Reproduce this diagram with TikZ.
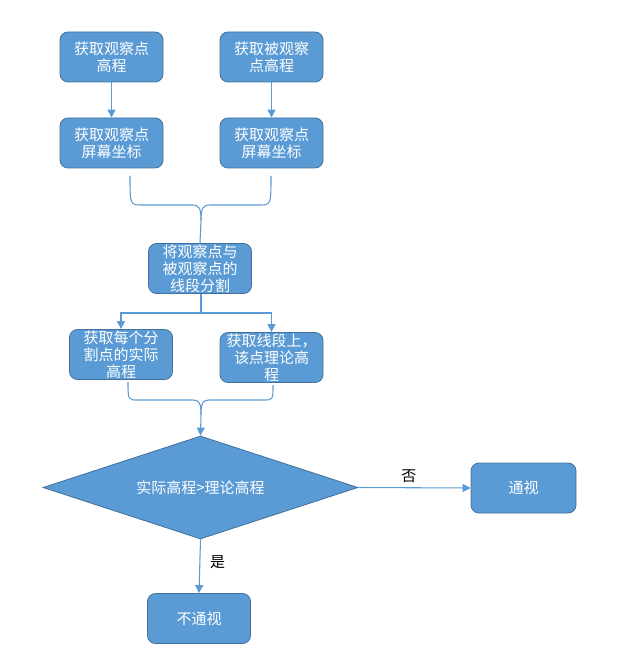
\documentclass[tikz,border=0pt]{standalone}
\usepackage{fontspec}
\setmainfont{Noto Sans CJK SC}
\usetikzlibrary{shapes.geometric,arrows.meta}
\definecolor{boxfill}{HTML}{5B9BD5}
\definecolor{boxline}{HTML}{41719C}
\definecolor{linkc}{HTML}{5B9BD5}
\begin{document}
\begin{tikzpicture}[x=0.75pt,y=-0.75pt,
  proc/.style={draw=boxline,fill=boxfill,rounded corners=6pt,minimum width=103*0.75pt,minimum height=50*0.75pt,inner sep=0pt,text=white,align=center,font=\fontsize{11.25}{12.75}\selectfont,line width=0.6pt},
  dec/.style={draw=boxline,fill=boxfill,diamond,aspect=3,minimum width=315*0.75pt,minimum height=103*0.75pt,inner sep=0pt,text=white,font=\fontsize{11.25}{12.75}\selectfont,line width=0.6pt},
  link/.style={draw=linkc,line width=0.8pt},
  arr/.style={link,-{Triangle[length=6pt,width=6pt]}},
  lbl/.style={font=\fontsize{11.25}{12.75}\selectfont,text=black}]
\useasboundingbox (0,0) rectangle (643,666);
\node[proc] (a1) at (111.5,57) {获取观察点\\高程};
\node[proc] (a2) at (271.5,57) {获取被观察\\点高程};
\node[proc] (b1) at (111.5,143) {获取观察点\\屏幕坐标};
\node[proc] (b2) at (271.5,143) {获取观察点\\屏幕坐标};
\node[proc] (c) at (200,268.5) {将观察点与\\被观察点的\\线段分割};
\node[proc] (d1) at (121,354.5) {获取每个分\\割点的实际\\高程};
\node[proc] (d2) at (271.5,357.5) {获取线段上，\\该点理论高\\程};
\node[dec] (dia) at (200.5,487.5) {实际高程>理论高程};
\node[proc,minimum width=105*0.75pt] (e) at (523.5,488) {通视};
\node[proc] (f) at (199,618.5) {不通视};

\draw[arr] (a1) -- (b1);
\draw[arr] (a2) -- (b2);

% upper brace
\coordinate (u1) at (130,176);
\coordinate (u2) at (271,176);
\coordinate (um) at (201,220);
\draw[link] (u1) .. controls (130,205) and (130,205) .. (142,205) -- (192,205) .. controls (199,205) and (201,208) .. (um);
\draw[link] (u2) .. controls (271,205) and (271,205) .. (259,205) -- (210,205) .. controls (203,205) and (201,208) .. (um);
\draw[link] (um) -- (c.north);

% split from c
\coordinate (sp) at (201,313);
\draw[link] (c.south -| sp) -- (sp);
\draw[arr] (sp) -| (d1.north);
\draw[arr] (sp) -| (d2.north);

% lower brace
\coordinate (l1) at (128,382);
\coordinate (l2) at (273,385);
\coordinate (lm) at (201,414);
\draw[link] (l1) .. controls (128,400) and (128,400) .. (138,400) -- (193,400) .. controls (199,400) and (201,403) .. (lm);
\draw[link] (l2) .. controls (273,400) and (273,400) .. (263,400) -- (209,400) .. controls (203,400) and (201,403) .. (lm);
\draw[arr] (lm) -- (dia.north);

\draw[arr] (dia.east) -- node[lbl,above,pos=0.45] (no) {否} (e.west);
\draw[arr] (dia.south) -- node[lbl,right,pos=0.42,xshift=4pt] (yes) {是} (f.north);
\end{tikzpicture}
\end{document}
